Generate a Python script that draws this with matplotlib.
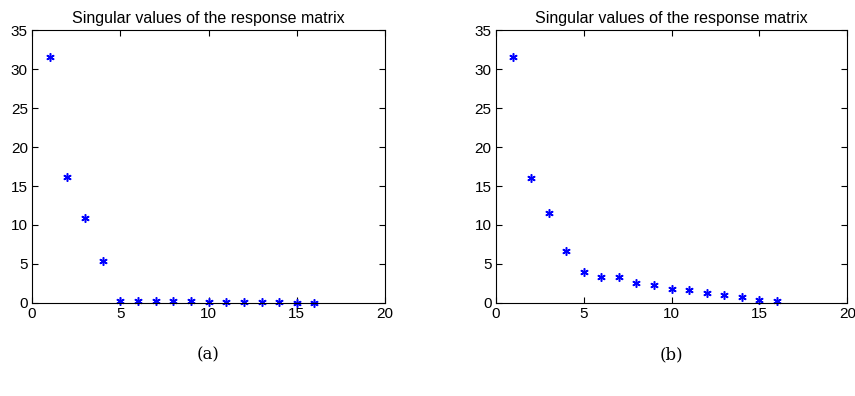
import numpy as np
import matplotlib.pyplot as plt

# singular values
idx = np.arange(1, 17)
sv_a = [31.5, 16.1, 10.9, 5.4, 0.30, 0.28, 0.25, 0.23, 0.20, 0.18,
        0.15, 0.13, 0.10, 0.08, 0.05, 0.02]
sv_b = [31.5, 16.0, 11.6, 6.6, 3.93, 3.37, 3.29, 2.6, 2.26, 1.84,
        1.66, 1.32, 1.07, 0.73, 0.38, 0.26]
titel = 'Singular values of the response matrix'
caps = ['(a)', '(b)']

plt.rcParams['font.family'] = ['Liberation Sans', 'DejaVu Sans']

fig = plt.figure(figsize=(8.55, 3.96), dpi=100)
ax1 = fig.add_axes([0.0374, 0.235, 0.413, 0.689])
ax2 = fig.add_axes([0.580, 0.235, 0.411, 0.689])

for ax, sv, cap in zip([ax1, ax2], [sv_a, sv_b], caps):
    # matlab style asterisk
    ax.plot(idx, sv, linestyle='none', marker=(6, 2, 0), color='#0000ff',
            markersize=6, markeredgewidth=1.1, clip_on=False)
    ax.set_xlim(0, 20)
    ax.set_ylim(0, 35)
    ax.set_xticks([0, 5, 10, 15, 20])
    ax.set_yticks([0, 5, 10, 15, 20, 25, 30, 35])
    ax.tick_params(direction='in', top=True, right=True, labelsize=11,
                   length=4, width=0.8, pad=3)
    for s in ax.spines.values():
        s.set_linewidth(0.8)
    ax.set_title(titel, fontsize=11.5, pad=5)
    ax.text(0.5, -0.19, cap, transform=ax.transAxes, ha='center',
            va='center', fontsize=12, family='DejaVu Serif')

fig.savefig('out.png', dpi=100)
